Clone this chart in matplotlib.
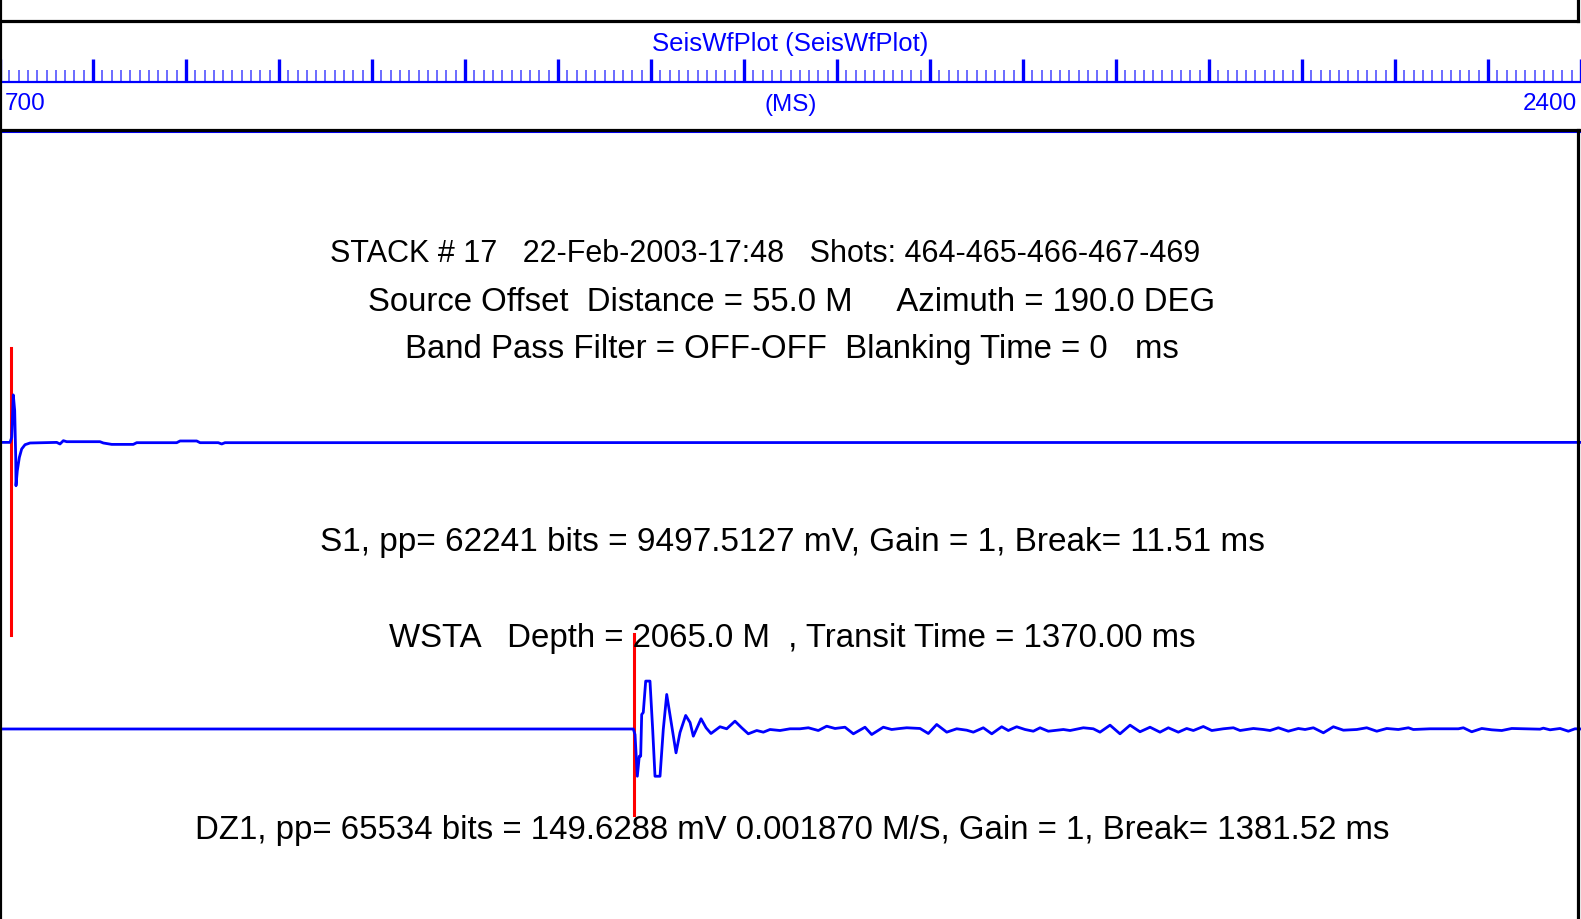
import matplotlib
matplotlib.use("Agg")
import matplotlib.pyplot as plt
from matplotlib.lines import Line2D
import numpy as np

plt.rcParams['font.family'] = ['Liberation Sans', 'DejaVu Sans']

# time axis (ms)
t_start, t_end = 700, 2400
major_step, minor_step = 100, 10

# S1 : source signal, own time base (ms from record start), mV
s1_t = [0, 10.8, 12.6, 14.3, 15.8, 16.9, 17.2, 18.6, 20.8, 23.3, 26.9, 32.3,
        61.0, 64.5, 68.1, 71.7, 107.5, 111.1, 120.1, 143.3, 147.0, 190.0,
        193.6, 211.5, 215.1, 234.7, 238.4, 241.9, 1700]
s1_mv = [0, 0, 524, 4963, 3319, -1571, -4534, -2963, -1571, -691, -241, -63,
         0, -168, 178, 73, 73, -63, -209, -209, -31, -31,
         147, 147, -31, -31, -168, -31, 0]
s1_break = 11.51

# DZ1 : downhole geophone (ms), mV
dz1_t = [700, 1345.2, 1381.0, 1382.8, 1385.3, 1387.4, 1388.9, 1390.0, 1391.7,
         1394.3, 1398.9, 1401.8, 1404.3, 1409.7, 1413.2, 1416.9, 1421.2, 1426.9,
         1431.2, 1437.3, 1442.0, 1445.5, 1453.8, 1459.2, 1464.5, 1474.2, 1481.4,
         1490.3, 1497.5, 1504.6, 1513.7, 1520.8, 1528.0, 1538.7, 1549.5, 1560.2,
         1569.2, 1579.9, 1588.9, 1597.9, 1608.6, 1617.6, 1630.1, 1637.3, 1649.8,
         1658.8, 1667.8, 1675.0, 1689.3, 1698.2, 1707.2, 1718.0, 1728.7, 1739.5,
         1746.6, 1757.3, 1766.4, 1777.1, 1784.2, 1793.2, 1802.2, 1811.1, 1818.3,
         1827.2, 1843.4, 1850.6, 1864.9, 1875.6, 1882.8, 1893.6, 1904.3, 1915.1,
         1925.8, 1936.6, 1947.3, 1956.3, 1967.0, 1976.0, 1983.2, 1993.9, 2003.0,
         2015.4, 2026.2, 2033.4, 2047.7, 2058.4, 2065.6, 2074.6, 2085.3, 2096.1,
         2103.3, 2112.2, 2123.0, 2133.7, 2144.5, 2158.9, 2169.6, 2180.4, 2191.1,
         2203.6, 2214.4, 2219.7, 2237.7, 2268.1, 2273.5, 2282.5, 2293.3, 2304.0,
         2314.8, 2325.5, 2355.9, 2359.5, 2366.7, 2377.5, 2386.4, 2393.6, 2400]
dz1_mv = [0, 0, 0, -8.7, -74.3, -42.8, -42.8, 22.8, 26.0,
          75.3, 75.3, -0.8, -74.3, -74.3, -0.8, 54.3, 15.0, -37.5,
          -5.5, 21.3, 10.2, -11.3, 16.1, 1.9, -7.1, 3.5, 0.3,
          12.3, 1.9, -7.6, -2.4, -5.0, -0.8, -2.4, 0.3, 0.3,
          1.9, -2.4, 4.4, 0.8, 2.8, -7.6, 2.8, -8.7, 2.8,
          -0.8, 0.8, 1.9, 0.8, -7.1, 7.1, -5.0, 0.3, -1.9,
          -5.0, 1.9, -7.6, 3.5, -2.4, 3.5, -0.8, -3.5, 1.9,
          -3.5, -0.8, -2.4, 1.9, 0.3, -5.0, 6.0, -7.6, 6.0,
          -4.4, 2.8, -5.0, 1.9, -5.0, 0.8, -2.4, 3.9, -2.4,
          0.3, 1.9, -2.4, 0.8, -0.8, -2.4, 1.9, -3.5, 0.8,
          -0.8, 1.9, -6.0, 3.5, -1.9, -0.8, 1.9, -3.5, 0.8,
          -0.8, 1.9, -0.8, 0.3, 0.3, 1.9, -4.4, 0.8, -1.3,
          -2.4, 0.8, -0.3, 1.3, -1.3, 0.8, -3.5, 0.3, 0]
dz1_break = 1381.52

header = ["STACK # 17   22-Feb-2003-17:48   Shots: 464-465-466-467-469",
          "Source Offset  Distance = 55.0 M     Azimuth = 190.0 DEG",
          "Band Pass Filter = OFF-OFF  Blanking Time = 0   ms"]
s1_label = "S1, pp= 62241 bits = 9497.5127 mV, Gain = 1, Break= 11.51 ms"
wsta_label = "WSTA   Depth = 2065.0 M  , Transit Time = 1370.00 ms"
dz1_label = "DZ1, pp= 65534 bits = 149.6288 mV 0.001870 M/S, Gain = 1, Break= 1381.52 ms"

W, H = 1581, 919
fig = plt.figure(figsize=(W / 100, H / 100), dpi=100)


def fx(px):
    return px / W


def fy(py):
    return 1 - py / H


# ---- ruler on top
ax_r = fig.add_axes([0, fy(81.5), 1, (81.5 - 21) / H])
ax_r.set_xlim(t_start, t_end)
ax_r.set_ylim(0, 1)
ax_r.patch.set_alpha(0)
for s in ['top', 'left', 'right']:
    ax_r.spines[s].set_visible(False)
ax_r.spines['bottom'].set_color('blue')
ax_r.spines['bottom'].set_linewidth(1.6)
ax_r.set_xticks(np.arange(t_start, t_end + 1, major_step))
ax_r.set_xticks(np.arange(t_start, t_end + 1, minor_step), minor=True)
ax_r.tick_params(axis='x', which='major', direction='in', length=16.5, width=2.4,
                 color='blue', labelbottom=False)
ax_r.tick_params(axis='x', which='minor', direction='in', length=8.5, width=1.1,
                 color='#4444ff')
ax_r.set_yticks([])

fig.text(0.5, fy(50.7), "SeisWfPlot (SeisWfPlot)", color='blue', fontsize=18.5,
         ha='center', va='baseline')
fig.text(fx(5), fy(110.5), str(t_start), color='blue', fontsize=17.5, ha='left', va='baseline')
fig.text(0.5, fy(110.5), "(MS)", color='blue', fontsize=17.5, ha='center', va='baseline')
fig.text(fx(1577), fy(110.5), str(t_end), color='blue', fontsize=17.5, ha='right', va='baseline')

# ---- traces
ax = fig.add_axes([0, 0, 1, (H - 132) / H])
ax.set_xlim(t_start, t_end)
ax.set_ylim(2.663, -0.083)
for s in ['bottom', 'left', 'right']:
    ax.spines[s].set_visible(False)
ax.spines['top'].set_color('blue')
ax.spines['top'].set_linewidth(1.5)
ax.set_xticks([])
ax.set_yticks([])

s1_v = np.array(s1_mv)
dz1_v = np.array(dz1_mv)
ax.plot(t_start + np.array(s1_t), 1 - s1_v * 0.317 / np.ptp(s1_v), color='blue', lw=2, zorder=3)
ax.plot(dz1_t, 2 - dz1_v * 0.332 / np.ptp(dz1_v), color='blue', lw=2, zorder=3)

ax.plot([t_start + s1_break] * 2, [1 - 0.331, 1 + 0.672], color='red', lw=2.2, zorder=2)
ax.plot([dz1_break] * 2, [2 - 0.330, 2 + 0.299], color='red', lw=2.2, zorder=2)

fig.text(fx(765), fy(262), header[0], fontsize=22, ha='center', va='baseline')
fig.text(fx(792), fy(311), header[1], fontsize=23.7, ha='center', va='baseline')
fig.text(fx(792), fy(358), header[2], fontsize=23.7, ha='center', va='baseline')
fig.text(fx(792), fy(551), s1_label, fontsize=24, ha='center', va='baseline')
fig.text(fx(792), fy(647), wsta_label, fontsize=23.8, ha='center', va='baseline')
fig.text(fx(792), fy(839), dz1_label, fontsize=23.8, ha='center', va='baseline')

# ---- black frame lines
frame = [([0, 0], [0, H]),
         ([0, 1578], [21, 21]),
         ([1578, 1578], [0, 21]),
         ([0, W], [130, 130]),
         ([1578, 1578], [130, H])]
for xs, ys in frame:
    fig.add_artist(Line2D([fx(v) for v in xs], [fy(v) for v in ys],
                          color='black', lw=2.3, transform=fig.transFigure))

fig.savefig("out.png", dpi=100)
